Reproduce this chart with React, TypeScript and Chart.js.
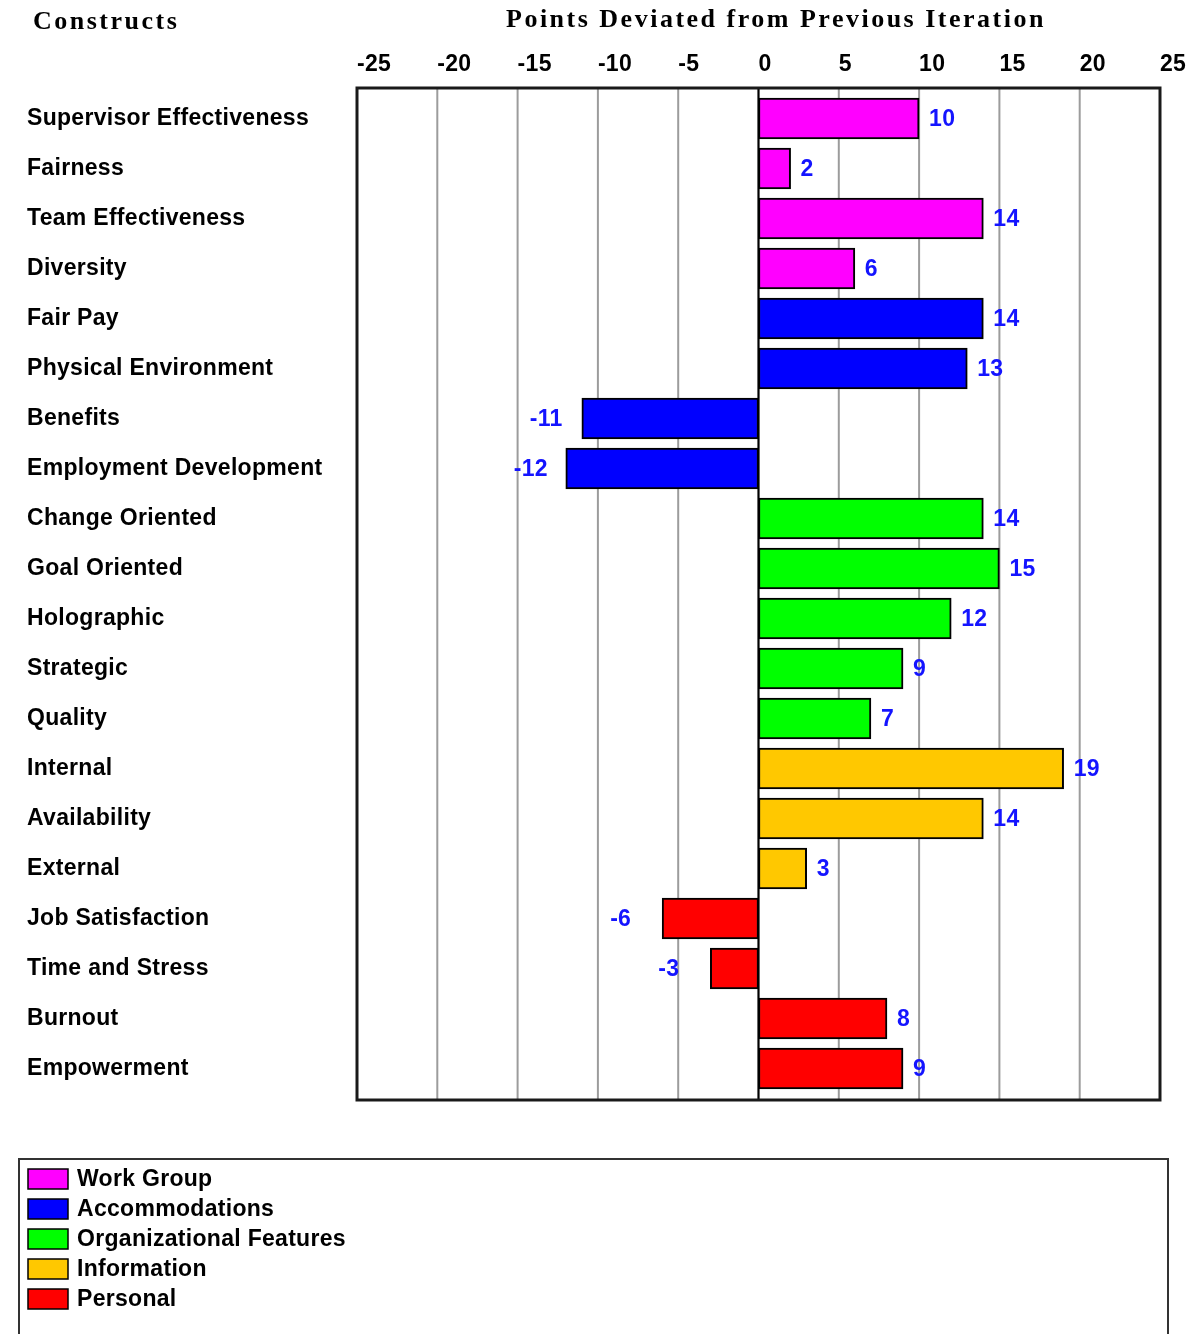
import React, { useEffect, useRef } from 'react';
import { Chart, registerables } from 'chart.js';

Chart.register(...registerables);

const categories = [
  'Supervisor Effectiveness', 'Fairness', 'Team Effectiveness', 'Diversity',
  'Fair Pay', 'Physical Environment', 'Benefits', 'Employment Development',
  'Change Oriented', 'Goal Oriented', 'Holographic', 'Strategic', 'Quality',
  'Internal', 'Availability', 'External',
  'Job Satisfaction', 'Time and Stress', 'Burnout', 'Empowerment',
];
const values = [10, 2, 14, 6, 14, 13, -11, -12, 14, 15, 12, 9, 7, 19, 14, 3, -6, -3, 8, 9];
const groupIndex = [0, 0, 0, 0, 1, 1, 1, 1, 2, 2, 2, 2, 2, 3, 3, 3, 4, 4, 4, 4];
const groupNames = ['Work Group', 'Accommodations', 'Organizational Features', 'Information', 'Personal'];
const groupColors = ['#ff00ff', '#0000ff', '#00ff00', '#ffc800', '#ff0000'];
const xMin = -25;
const xMax = 25;
const xStep = 5;
const chartTitle = 'Points Deviated from Previous Iteration';
const categoryTitle = 'Constructs';

const SANS = '"Liberation Sans", Arial, sans-serif';
const SERIF = '"Liberation Serif", "Times New Roman", serif';
const SANS_SPACING = '0.3px';
const SANS_SIZE = 23;

const framePlugin = {
  id: 'frame',
  beforeDraw(chart: any) {
    (chart.ctx as any).letterSpacing = SANS_SPACING;
  },
  beforeDatasetsDraw(chart: any) {
    const { ctx, chartArea, scales } = chart;
    const x = scales.x;
    const top = chartArea.top - 5.5;
    const bottom = chartArea.bottom + 6.5;
    ctx.save();
    ctx.strokeStyle = '#9c9c9c';
    ctx.lineWidth = 2;
    x.ticks.forEach((t: any) => {
      const px = x.getPixelForValue(t.value);
      ctx.beginPath();
      ctx.moveTo(px, top);
      ctx.lineTo(px, bottom);
      ctx.stroke();
    });
    ctx.restore();
  },
  afterDatasetsDraw(chart: any) {
    const { ctx, chartArea, scales } = chart;
    const x = scales.x;
    const top = chartArea.top - 5.5;
    const bottom = chartArea.bottom + 6.5;
    ctx.save();
    const zx = x.getPixelForValue(0);
    ctx.strokeStyle = '#000';
    ctx.lineWidth = 2;
    ctx.beginPath();
    ctx.moveTo(zx, top);
    ctx.lineTo(zx, bottom);
    ctx.stroke();
    ctx.strokeStyle = '#1a1a1a';
    ctx.lineWidth = 3;
    ctx.strokeRect(chartArea.left, top, chartArea.right - chartArea.left, bottom - top);
    const meta = chart.getDatasetMeta(0);
    ctx.font = 'bold ' + SANS_SIZE + 'px ' + SANS;
    (ctx as any).letterSpacing = SANS_SPACING;
    ctx.fillStyle = '#1414ff';
    ctx.textBaseline = 'middle';
    ctx.textAlign = 'left';
    meta.data.forEach((el: any, i: number) => {
      const v = values[i];
      const lx = v >= 0 ? el.x + 10 : el.x - 52;
      ctx.fillText(String(v), lx, el.y + 1);
    });
    ctx.restore();
  },
  afterDraw(chart: any) {
    const { ctx } = chart;
    ctx.save();
    ctx.font = 'bold 26px ' + SERIF;
    (ctx as any).letterSpacing = '2.5px';
    ctx.fillStyle = '#000';
    ctx.textBaseline = 'middle';
    ctx.textAlign = 'left';
    ctx.fillText(categoryTitle, 33, 22);
    ctx.fillText(chartTitle, 506, 20);
    (ctx as any).letterSpacing = SANS_SPACING;
    ctx.strokeStyle = '#333';
    ctx.lineWidth = 2;
    ctx.strokeRect(19, 1159, 1149, 200);
    ctx.font = 'bold ' + SANS_SIZE + 'px ' + SANS;
    groupNames.forEach((name, i) => {
      const cy = 1179 + 30 * i;
      ctx.fillStyle = groupColors[i];
      ctx.fillRect(28, cy - 10, 40, 20);
      ctx.strokeStyle = '#000';
      ctx.lineWidth = 1.5;
      ctx.strokeRect(28, cy - 10, 40, 20);
      ctx.fillStyle = '#000';
      ctx.fillText(name, 77, cy + 1);
    });
    ctx.restore();
    (ctx as any).letterSpacing = '0px';
  },
};

export default function App() {
  const ref = useRef<HTMLCanvasElement | null>(null);

  useEffect(() => {
    document.body.style.margin = '0';
    document.documentElement.style.overflow = 'hidden';
    const canvas = ref.current;
    if (!canvas) return;
    const chart = new Chart(canvas, {
      type: 'bar',
      data: {
        labels: categories,
        datasets: [
          {
            data: values,
            backgroundColor: groupIndex.map((g) => groupColors[g]),
            borderColor: '#000',
            borderWidth: 2,
            borderSkipped: false,
            barThickness: 41,
          },
        ],
      },
      options: {
        indexAxis: 'y',
        responsive: false,
        animation: false,
        devicePixelRatio: 1,
        layout: { padding: { left: 27, right: 28, top: 40, bottom: 240.5 } },
        plugins: {
          legend: { display: false },
          tooltip: { enabled: false },
          title: { display: false },
        },
        scales: {
          x: {
            type: 'linear',
            position: 'top',
            min: xMin,
            max: xMax,
            grid: { display: false },
            border: { display: false },
            ticks: {
              stepSize: xStep,
              align: 'start',
              padding: 7,
              color: '#000',
              font: { family: SANS, size: SANS_SIZE, weight: 'bold' },
            },
            afterFit: (s: any) => {
              s.height = 53.5;
              s.paddingLeft = 0;
              s.paddingRight = 0;
            },
          },
          y: {
            type: 'category',
            grid: { display: false },
            border: { display: false },
            ticks: {
              crossAlign: 'far',
              padding: 0,
              color: '#000',
              font: { family: SANS, size: SANS_SIZE, weight: 'bold' },
            },
            afterFit: (s: any) => {
              s.width = 330;
              s.paddingTop = 0;
              s.paddingBottom = 0;
            },
          },
        },
      },
      plugins: [framePlugin],
    });
    return () => chart.destroy();
  }, []);

  return (
    <div style={{ width: 1188, height: 1334 }}>
      <canvas ref={ref} width={1188} height={1334} style={{ display: 'block' }} />
    </div>
  );
}
